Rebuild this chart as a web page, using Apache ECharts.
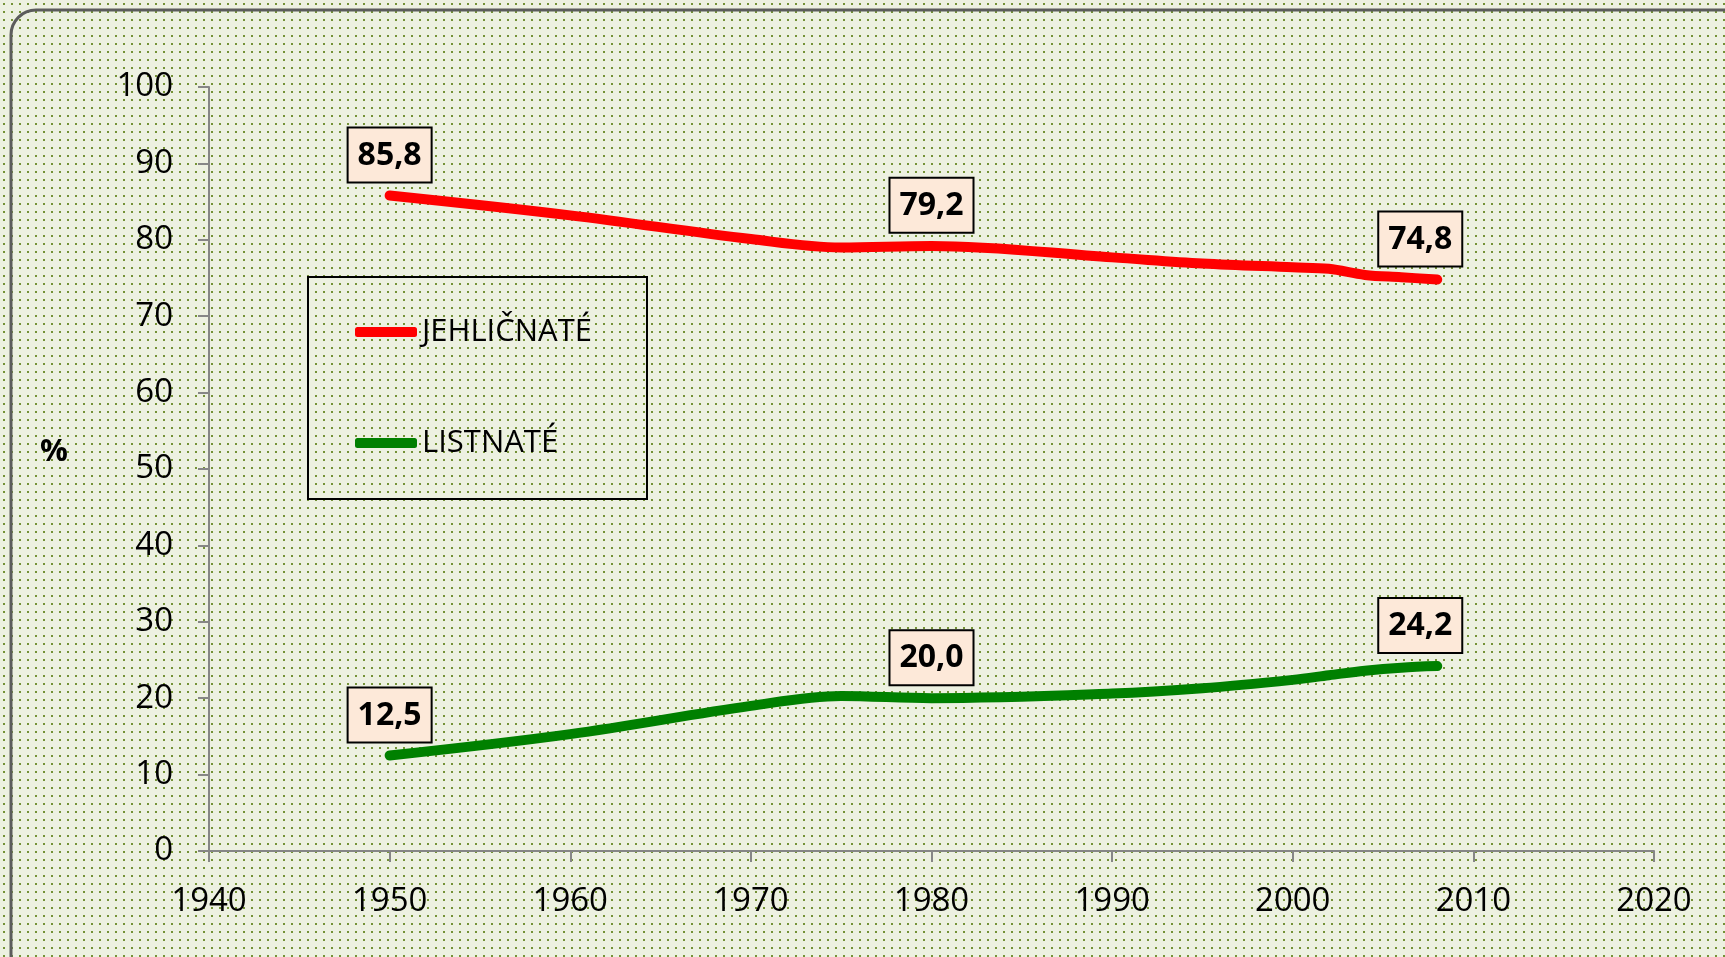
<!DOCTYPE html>
<html>
<head>
<meta charset="utf-8">
<title>Dřevinná skladba</title>
<script src="https://cdn.jsdelivr.net/npm/echarts@6/dist/echarts.min.js"></script>
<style>
  html, body {
    margin: 0;
    padding: 0;
    background-color: #edf1e1;
    background-image: url("data:image/svg+xml,%3Csvg xmlns='http://www.w3.org/2000/svg' width='8' height='8'%3E%3Crect x='3' y='3' width='2' height='2' fill='%23749236'/%3E%3C/svg%3E");
    background-size: 8px 8px;
  }
  #chart {
    width: 1725px;
    height: 957px;
  }
</style>
</head>
<body>
<div id="chart"></div>
<script>
// years
const years = [1950, 1960, 1970, 1975, 1980, 1990, 1995, 2000, 2002, 2004, 2006, 2008]
// share of conifers / broadleaves in %
const jehlicnate = [85.8, 83.2, 80.1, 79.0, 79.2, 77.7, 76.9, 76.4, 76.2, 75.4, 75.1, 74.8]
const listnate = [12.5, 15.3, 19.0, 20.3, 20.0, 20.6, 21.3, 22.4, 23.0, 23.6, 24.0, 24.2]
// points that carry a value box
const labelYears = [1950, 1980, 2008]
const seriesNames = ['JEHLIČNATÉ', 'LISTNATÉ']

const chart = echarts.init(document.getElementById('chart'), null, { renderer: 'canvas' })

const FONT = '"Open Sans", "Noto Sans", sans-serif'

function buildData(values) {
  return years.map((y, i) => {
    const item = { value: [y, values[i]] }
    if (labelYears.indexOf(y) !== -1) {
      // last box sits a bit left of its point in the original
      item.label = { show: true, offset: y === years[years.length - 1] ? [-17, 0] : [0, 0] }
    }
    return item
  })
}

const valueBox = {
  show: false,
  position: 'top',
  distance: 14,
  formatter: p => p.value[1].toFixed(1).replace('.', ','),
  fontFamily: FONT,
  fontSize: 32,
  fontWeight: 'bold',
  color: '#000',
  lineHeight: 34,
  backgroundColor: '#fde9d9',
  borderColor: '#000',
  borderWidth: 2,
  padding: [10, 9, 9, 9]
}

function lineSeries(name, values, color) {
  return {
    name: name,
    type: 'line',
    smooth: 0.35,
    symbol: 'circle',
    symbolSize: 0.1,
    showSymbol: true,
    data: buildData(values),
    lineStyle: { color: color, width: 10, cap: 'round', join: 'round' },
    itemStyle: { color: color },
    label: valueBox,
    emphasis: { disabled: true },
    animation: false
  }
}

chart.setOption({
  backgroundColor: 'transparent',
  textStyle: { fontFamily: FONT },
  grid: {
    left: 209,
    right: 71,
    top: 87,
    bottom: 106,
    containLabel: false
  },
  legend: {
    data: seriesNames,
    orient: 'vertical',
    left: 308,
    top: 277,
    icon: 'roundRect',
    itemWidth: 62,
    itemHeight: 10,
    itemGap: 75,
    padding: [37, 47, 38, 47],
    borderColor: '#000',
    borderWidth: 2,
    textStyle: {
      fontFamily: FONT,
      fontSize: 31,
      color: '#000',
      lineHeight: 36,
      width: 178
    },
    selectedMode: false
  },
  xAxis: {
    type: 'value',
    min: 1940,
    max: 2020,
    interval: 10,
    splitLine: { show: false },
    axisLine: { show: true, onZero: false, lineStyle: { color: '#868686', width: 2 } },
    axisTick: { show: true, length: 11, lineStyle: { color: '#868686', width: 2 } },
    axisLabel: { fontSize: 33, color: '#000', margin: 34, fontFamily: FONT, formatter: v => String(v) }
  },
  yAxis: {
    type: 'value',
    min: 0,
    max: 100,
    interval: 10,
    splitLine: { show: false },
    axisLine: { show: true, lineStyle: { color: '#868686', width: 2 } },
    axisTick: { show: true, length: 11, lineStyle: { color: '#868686', width: 2 } },
    axisLabel: { fontSize: 33, color: '#000', margin: 36, fontFamily: FONT }
  },
  graphic: [
    {
      // rounded frame of the chart area
      type: 'rect',
      silent: true,
      shape: { x: 11, y: 10, width: 1800, height: 1100, r: 25 },
      style: { fill: 'none', stroke: '#5c5c5c', lineWidth: 3 }
    },
    {
      type: 'text',
      silent: true,
      style: {
        x: 54,
        y: 452,
        text: '%',
        align: 'center',
        verticalAlign: 'middle',
        fontFamily: FONT,
        fontSize: 31,
        fontWeight: 'bold',
        fill: '#000'
      }
    }
  ],
  series: [
    lineSeries(seriesNames[0], jehlicnate, '#ff0000'),
    lineSeries(seriesNames[1], listnate, '#008000')
  ]
})
</script>
</body>
</html>
